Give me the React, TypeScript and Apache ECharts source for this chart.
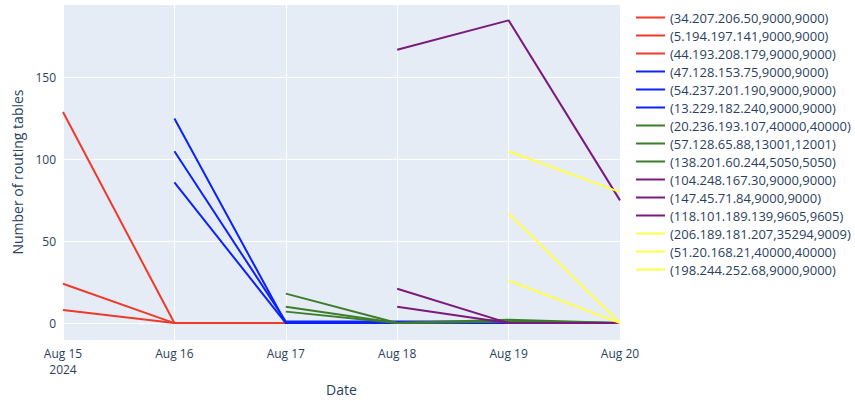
import React, { useEffect, useRef } from "react";
import * as echarts from "echarts";

const dates = ["2024-08-15", "2024-08-16", "2024-08-17", "2024-08-18", "2024-08-19", "2024-08-20"];
const dateLabels = ["Aug 15\n2024", "Aug 16", "Aug 17", "Aug 18", "Aug 19", "Aug 20"];

const names = [
  "(34.207.206.50,9000,9000)",
  "(5.194.197.141,9000,9000)",
  "(44.193.208.179,9000,9000)",
  "(47.128.153.75,9000,9000)",
  "(54.237.201.190,9000,9000)",
  "(13.229.182.240,9000,9000)",
  "(20.236.193.107,40000,40000)",
  "(57.128.65.88,13001,12001)",
  "(138.201.60.244,5050,5050)",
  "(104.248.167.30,9000,9000)",
  "(147.45.71.84,9000,9000)",
  "(118.101.189.139,9605,9605)",
  "(206.189.181.207,35294,9009)",
  "(51.20.168.21,40000,40000)",
  "(198.244.252.68,9000,9000)",
];

const colors = [
  "#ef3a2b", "#ef3a2b", "#ef3a2b",
  "#0b22f8", "#0b22f8", "#0b22f8",
  "#3b7d2b", "#3b7d2b", "#3b7d2b",
  "#7a1a7c", "#7a1a7c", "#7a1a7c",
  "#ffff4a", "#ffff4a", "#ffff4a",
];

const red1 = [129, 0, 0, null, null, null];
const red2 = [24, 0, 0, null, null, null];
const red3 = [8, 0, 0, null, null, null];
const blue1 = [null, 125, 0, 0, 0, null];
const blue2 = [null, 105, 1, 1, 1, null];
const blue3 = [null, 86, 0, 0, 0, null];
const green1 = [null, null, 18, 0, 2, 0];
const green2 = [null, null, 10, 0, 1, 0];
const green3 = [null, null, 7, 0, 1, 0];
const purple1 = [null, null, null, 167, 185, 75];
const purple2 = [null, null, null, 21, 0, 0];
const purple3 = [null, null, null, 10, 0, 0];
const yellow1 = [null, null, null, null, 105, 80];
const yellow2 = [null, null, null, null, 67, 0];
const yellow3 = [null, null, null, null, 26, 0];

const seriesValues = [
  red1, red2, red3, blue1, blue2, blue3, green1, green2, green3,
  purple1, purple2, purple3, yellow1, yellow2, yellow3,
];

const FONT = "'Open Sans', 'Noto Sans', sans-serif";
const TXT = "#2a3f5f";

export default function App() {
  const ref = useRef<HTMLDivElement>(null);
  useEffect(() => {
    if (!ref.current) return;
    const chart = echarts.init(ref.current, undefined, { renderer: "svg" });
    chart.setOption({
      animation: false,
      backgroundColor: "#ffffff",
      textStyle: { fontFamily: FONT },
      grid: {
        left: 63, right: 235, top: 4, bottom: 60, containLabel: false,
        show: true, backgroundColor: "#E5ECF6", borderWidth: 0,
      },
      legend: {
        orient: "vertical",
        left: 636,
        top: 11,
        padding: 0,
        itemWidth: 29,
        itemHeight: 2,
        itemGap: 5,
        icon: "rect",
        textStyle: { color: TXT, fontSize: 13, fontFamily: FONT },
        data: names,
      },
      xAxis: {
        type: "category",
        data: dates,
        boundaryGap: false,
        axisLine: { show: false },
        axisTick: { show: false },
        axisLabel: {
          color: TXT,
          fontSize: 12,
          fontFamily: FONT,
          margin: 5,
          lineHeight: 16,
          interval: 0,
          formatter: (_v: string, i: number) => dateLabels[i],
        },
        splitLine: { show: true, lineStyle: { color: "#ffffff", width: 1 } },
        name: "Date",
        nameLocation: "middle",
        nameGap: 40,
        nameTextStyle: { color: TXT, fontSize: 14, fontFamily: FONT },
      },
      yAxis: {
        type: "value",
        min: -10.4,
        max: 195,
        splitNumber: 4,
        axisLine: { show: false },
        axisTick: { show: false },
        axisLabel: {
          color: TXT,
          fontSize: 12,
          fontFamily: FONT,
          margin: 7,
          formatter: (v: number) => (Math.abs(v % 50) < 1e-6 ? String(v) : ""),
        },
        splitLine: { show: true, lineStyle: { color: "#ffffff", width: 1 } },
        name: "Number of routing tables",
        nameLocation: "middle",
        nameGap: 37,
        nameTextStyle: { color: TXT, fontSize: 14, fontFamily: FONT },
      },
      series: seriesValues.map((vals, i) => ({
        name: names[i],
        type: "line",
        data: vals,
        symbol: "none",
        connectNulls: false,
        lineStyle: { color: colors[i], width: 2 },
        itemStyle: { color: colors[i] },
      })),
    });
    return () => chart.dispose();
  }, []);
  return (
    <div style={{ position: "absolute", left: 0, top: 0, width: 855, height: 401, background: "#ffffff" }}>
      <div style={{ position: "absolute", left: 0, top: 0, width: 855, height: 401 }} ref={ref} />
    </div>
  );
}
